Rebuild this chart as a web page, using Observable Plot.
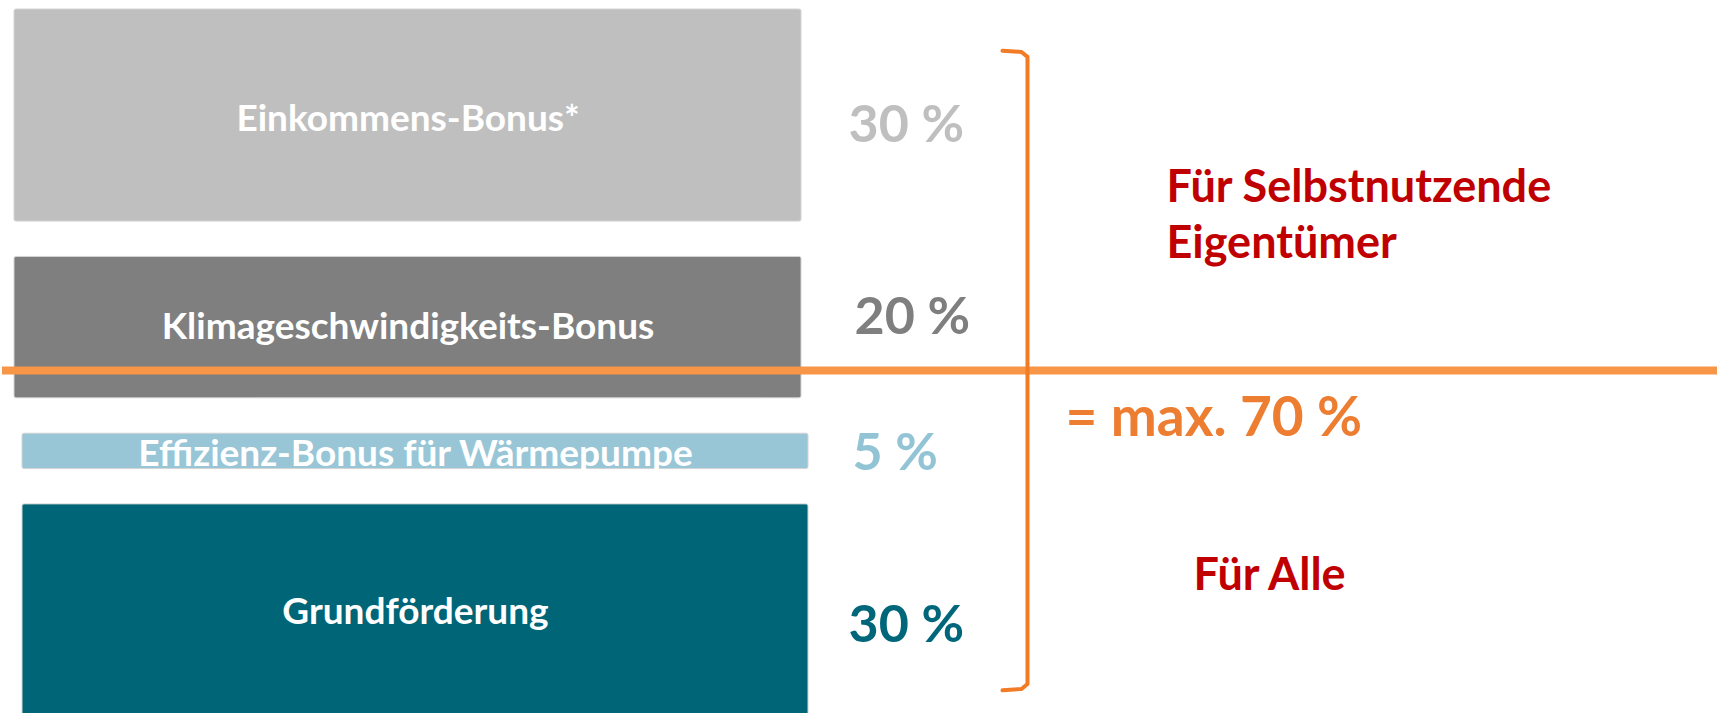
<!DOCTYPE html>
<html>
<head>
<meta charset="utf-8">
<script src="https://cdn.jsdelivr.net/npm/d3@7"></script>
<script src="https://cdn.jsdelivr.net/npm/@observablehq/plot@0.6"></script>
<style>
  html, body { margin: 0; padding: 0; background: #ffffff; }
  #chart svg { display: block; }
</style>
</head>
<body>
<div id="chart"></div>
<script>
// ---------- DATA ----------
const categories = ["Grundförderung", "Effizienz-Bonus für Wärmepumpe", "Klimageschwindigkeits-Bonus", "Einkommens-Bonus*"];
const values = [30, 5, 20, 30];
const valueLabels = ["30 %", "5 %", "20 %", "30 %"];
const groupTexts = ["Für Selbstnutzende\nEigentümer", "= max. 70 %", "Für Alle"];

// ---------- LAYOUT / STYLE (not data) ----------
const GAP = 5;                        // gap between stacked blocks (in % units)
const barLeft  = [22, 22, 14, 14];    // px
const barRight = [808, 808, 801, 801];
const barColors = ["#006677", "#98c6d6", "#7f7f7f", "#bfbfbf"];
const catShift = [-0.3, -0.45, 0, -0.45];       // % units
const pctColors = ["#00677a", "#93c4d5", "#7f7f7f", "#bfbfbf"];
const pctX = [848, 852, 854, 848];
const pctShift = [-2.1, -0.3, 1.4, -1.4];       // % units
const groupColors = ["#c00000", "#ed7d31", "#c00000"];
const groupX = [1166, 1065, 1193];
const groupY = [71.4, 42.8, 20.5];
const groupSize = [45, 55, 45];
const dividerY = 48.95;
const bracket = [
  {x: 1002, y: 94.15}, {x: 1021, y: 94.0}, {x: 1027, y: 93.3},
  {x: 1027, y: 4.6}, {x: 1021, y: 3.9}, {x: 1002, y: 3.7}
];

// ---------- build table ----------
let acc = 0;
const rows = categories.map((c, i) => {
  const y1 = acc, y2 = acc + values[i];
  acc = y2 + GAP;
  return {i, category: c, value: values[i], label: valueLabels[i], y1, y2, mid: (y1 + y2) / 2};
});
const groups = groupTexts.map((t, i) => ({i, text: t}));

const font = "Lato, 'Open Sans', sans-serif";

const chart = Plot.plot({
  width: 1725,
  height: 713,
  marginTop: 9,
  marginBottom: -3,
  marginLeft: 0,
  marginRight: 0,
  x: {domain: [0, 1725], axis: null},
  y: {domain: [0, 100], axis: null},
  color: {type: "identity"},
  style: {fontFamily: font, background: "#ffffff", overflow: "visible"},
  marks: [
    Plot.rect(rows, {
      x1: d => barLeft[d.i], x2: d => barRight[d.i],
      y1: "y1", y2: "y2",
      fill: d => barColors[d.i],
      stroke: "#d4d4d4", strokeWidth: 1, rx: 2
    }),
    Plot.text(rows, {
      x: d => (barLeft[d.i] + barRight[d.i]) / 2,
      y: d => d.mid + catShift[d.i],
      text: "category",
      fill: "#ffffff",
      fontSize: 37, fontWeight: 700
    }),
    Plot.text(rows, {
      x: d => pctX[d.i],
      y: d => d.mid + pctShift[d.i],
      text: "label",
      textAnchor: "start",
      fill: d => pctColors[d.i],
      fontSize: 52, fontWeight: 700
    }),
    Plot.ruleY([dividerY], {x1: 2, x2: 1717, stroke: "#f79646", strokeWidth: 8}),
    Plot.line(bracket, {x: "x", y: "y", stroke: "#f27b26", strokeWidth: 4, strokeLinejoin: "round", strokeLinecap: "round"}),
    Plot.text(groups, {
      x: d => groupX[d.i],
      y: d => groupY[d.i],
      text: "text",
      textAnchor: "start",
      lineHeight: 1.25,
      fill: d => groupColors[d.i],
      fontSize: d => groupSize[d.i],
      fontWeight: 700
    })
  ]
});
document.getElementById("chart").appendChild(chart);
</script>
</body>
</html>
